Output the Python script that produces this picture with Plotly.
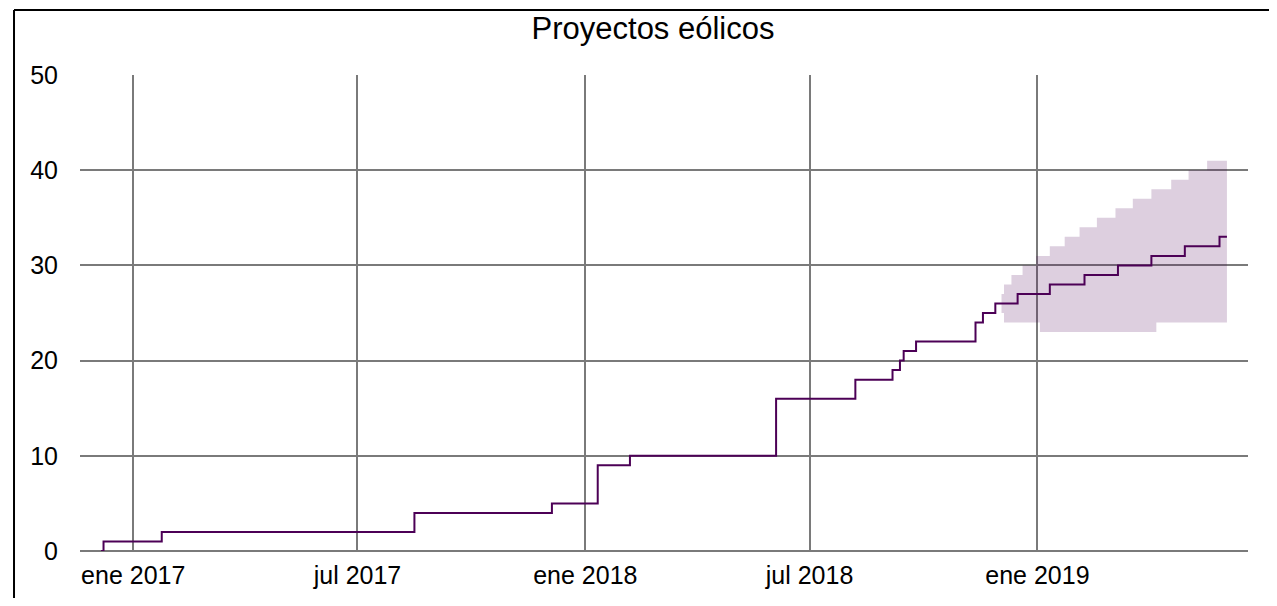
import plotly.graph_objects as go

# cumulative wind projects (step changes)
line_dates = [
    "2016-12-06", "2016-12-08", "2017-01-24", "2017-08-16", "2017-12-05",
    "2018-01-11", "2018-02-06", "2018-06-04", "2018-08-07", "2018-09-06",
    "2018-09-12", "2018-09-15", "2018-09-25", "2018-11-12", "2018-11-18",
    "2018-11-28", "2018-12-16", "2019-01-11", "2019-02-08", "2019-03-07",
    "2019-04-03", "2019-04-30", "2019-05-28", "2019-06-03",
]
line_values = [0, 1, 2, 4, 5, 9, 10, 16, 18, 19, 20, 21, 22, 24, 25,
               26, 27, 28, 29, 30, 31, 32, 33, 33]

# forecast band
band_dates = [
    "2018-12-03", "2018-12-05", "2018-12-11", "2018-12-20", "2018-12-31",
    "2019-01-03", "2019-01-11", "2019-01-23", "2019-02-04", "2019-02-18",
    "2019-03-05", "2019-03-19", "2019-04-03", "2019-04-07", "2019-04-19",
    "2019-05-03", "2019-05-18", "2019-06-03",
]
band_lower = [25, 24, 24, 24, 24, 23, 23, 23, 23, 23, 23, 23, 23, 24, 24, 24, 24, 24]
band_upper = [27, 28, 29, 30, 31, 31, 32, 33, 34, 35, 36, 37, 38, 38, 39, 40, 41, 41]

tick_vals = ["2017-01-01", "2017-07-01", "2018-01-01", "2018-07-01", "2019-01-01"]
tick_text = ["ene 2017", "jul 2017", "ene 2018", "jul 2018", "ene 2019"]

PURPLE = "#4c0056"
BAND = "rgba(76,0,86,0.19)"
GRID = "#7a7a7a"

fig = go.Figure()
fig.add_trace(go.Scatter(x=band_dates, y=band_lower, mode="lines", line_shape="hv",
                         line=dict(width=0), showlegend=False, hoverinfo="skip"))
fig.add_trace(go.Scatter(x=band_dates, y=band_upper, mode="lines", line_shape="hv",
                         line=dict(width=0), fill="tonexty", fillcolor=BAND,
                         showlegend=False, hoverinfo="skip"))
fig.add_trace(go.Scatter(x=line_dates, y=line_values, mode="lines", line_shape="hv",
                         line=dict(color=PURPLE, width=2), showlegend=False))

# figure border (only left and top edges visible)
fig.add_shape(type="line", xref="paper", yref="paper", x0=-0.0565, x1=-0.0565,
              y0=-0.12, y1=1.1366, line=dict(color="black", width=2))
fig.add_shape(type="line", xref="paper", yref="paper", x0=-0.0565, x1=1.022,
              y0=1.1366, y1=1.1366, line=dict(color="black", width=2))

# page body has an 8px margin, so the figure is sized to fit inside the window
fig.update_layout(
    width=1269, height=590,
    margin=dict(l=72, r=29, t=67, b=47),
    paper_bgcolor="white", plot_bgcolor="white",
    font=dict(family="Liberation Sans, Arial, sans-serif", color="black", size=25),
    title=dict(text="Proyectos eólicos", x=0.4906, xref="paper", xanchor="center",
               y=1 - 20 / 590, yref="container", yanchor="middle",
               font=dict(size=31, color="black")),
    xaxis=dict(range=["2016-11-19", "2019-06-20"], tickvals=tick_vals, ticktext=tick_text,
               showgrid=True, gridcolor=GRID, gridwidth=2, showline=False,
               zeroline=False, ticks="", ticklabelstandoff=7, automargin=False),
    yaxis=dict(range=[0, 50], tickvals=[0, 10, 20, 30, 40, 50],
               showgrid=True, gridcolor=GRID, gridwidth=2, showline=False,
               zeroline=True, zerolinecolor=GRID, zerolinewidth=2,
               ticks="", ticklabelstandoff=21, automargin=False),
)

fig.write_html("out.html")
